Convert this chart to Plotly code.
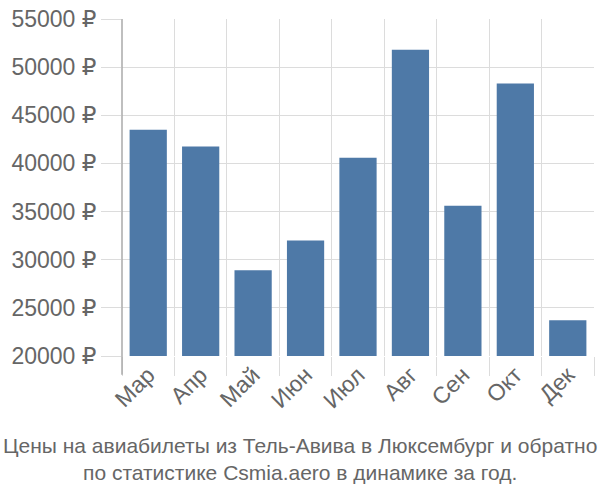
import plotly.graph_objects as go

months = ["Мар", "Апр", "Май", "Июн", "Июл", "Авг", "Сен", "Окт", "Дек"]
prices = [43500, 41750, 28900, 32000, 40600, 51800, 35600, 48300, 23700]
y_ticks = [20000, 25000, 30000, 35000, 40000, 45000, 50000, 55000]
y_tick_text = [f"{v} ₽" for v in y_ticks]
title_lines = ["Цены на авиабилеты из Тель-Авива в Люксембург и обратно",
               "по статистике Csmia.aero в динамике за год."]

W, H = 600, 500
ml, mr, mt, mb = 122, 6, 14, 144
plot_h = H - mt - mb

fig = go.Figure(go.Bar(x=months, y=prices, marker_color="#4e79a7",
                       marker_line_width=0))

grid = "#dcdcdc"
fam = "Liberation Sans, Arial, DejaVu Sans, sans-serif"
font = dict(family=fam, size=23, color="#666666")

fig.update_layout(
    width=W, height=H,
    margin=dict(l=ml, r=mr, t=mt, b=mb),
    paper_bgcolor="white", plot_bgcolor="white",
    bargap=0.29,
    showlegend=False,
    font=font,
    xaxis=dict(type="category", tickson="boundaries", showgrid=True, gridcolor=grid,
               gridwidth=1, ticks="outside", ticklen=19, tickcolor=grid, tickwidth=1,
               tickangle=-45, tickfont=font, showline=False, zeroline=False),
    yaxis=dict(range=[20000, 55000], tickvals=y_ticks, ticktext=y_tick_text,
               showgrid=True, gridcolor=grid, gridwidth=1, ticks="outside", ticklen=20,
               tickcolor=grid, tickwidth=1, tickfont=font, showline=False, zeroline=False),
)

# left axis line extending down through the tick zone
fig.add_shape(type="line", xref="paper", yref="paper", x0=0, x1=0,
              y0=-19 / plot_h, y1=1, line=dict(color="#aaaaaa", width=1.5))

fig.add_annotation(text="<br>".join(title_lines), xref="paper", yref="paper",
                   x=(300 - ml) / (W - ml - mr), y=(mt + plot_h - 461) / plot_h,
                   xanchor="center", yanchor="middle", showarrow=False,
                   font=dict(family=fam, size=21, color="#666666"), align="center")

fig.write_html("out.html")
